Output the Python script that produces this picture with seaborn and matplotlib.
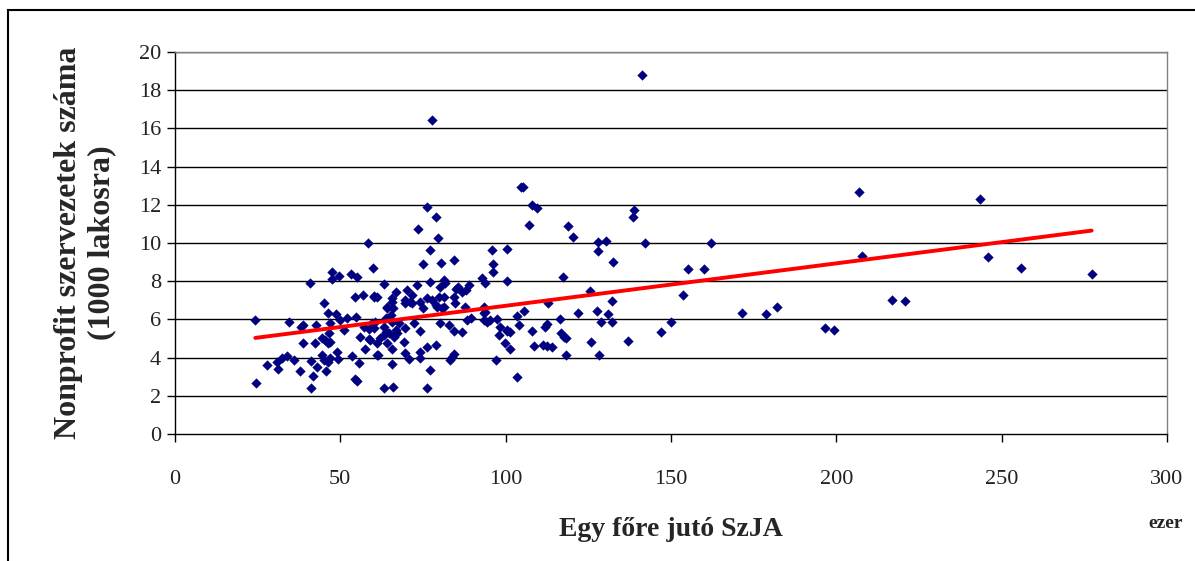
"""
Nonprofit szervezetek száma vs. egy főre jutó SzJA - szórásdiagram trendvonallal.
"""
import numpy as np
import pandas as pd
import matplotlib
matplotlib.use('Agg')
import matplotlib.pyplot as plt
import seaborn as sns
from matplotlib.patches import Rectangle

# ============== Adatok ==============
szja = [
    24.3, 34.4, 45.0, 54.3, 56.9, 60.1, 61.1, 46.2, 48.8, 38.8, 42.8, 46.8, 52.1, 54.6,
    50.0, 51.0, 57.1, 58.6, 59.6, 60.6, 38.0, 46.5, 38.8, 42.5, 44.5, 45.5, 46.2, 46.8,
    57.6, 58.6, 56.1, 61.1, 61.3, 27.7, 30.9, 32.4, 33.9, 31.2, 35.9, 37.7, 41.2, 43.0,
    44.5, 45.0, 46.2, 47.0, 49.0, 49.2, 45.8, 41.8, 41.2, 53.6, 55.8, 54.3, 55.1, 24.6,
    58.4, 59.9, 47.5, 47.5, 49.5, 53.1, 55.1, 40.7,
    77.6, 76.3, 78.8, 104.5, 73.5, 79.5, 77.0, 75.0, 80.6, 84.3, 95.9, 100.5, 96.2, 96.2,
    100.5, 63.1, 73.2, 77.0, 81.5, 81.8, 80.0, 85.6, 85.1, 88.8, 88.1, 86.8, 92.9, 93.9,
    60.1, 65.7, 66.7, 70.2, 71.7, 69.7, 71.2, 76.3, 77.8, 79.8, 78.8, 81.3, 81.3, 84.3,
    84.8, 87.8, 64.0, 66.0, 75.0, 93.4,
    63.7, 65.2, 65.7, 60.1, 63.1, 63.7, 64.7, 66.7, 67.7, 69.7, 72.2, 74.0, 59.1, 62.1,
    63.1, 64.2, 66.2, 67.2, 61.1, 65.7, 69.2, 69.7, 70.7, 74.2, 74.2, 76.3, 78.8, 83.3,
    83.9, 84.3, 65.7, 77.0, 63.1, 66.0, 76.3, 80.3, 82.8, 84.3, 86.8, 88.4, 89.4, 93.4,
    94.4, 95.4, 97.4, 97.9, 100.5, 101.4, 99.9, 101.2, 97.2, 103.5, 103.5, 64.2, 65.7,
    69.7, 71.7, 74.2, 79.3, 80.8, 93.4, 93.9,
    105.2, 108.0, 109.5, 107.0, 138.7, 138.4, 118.8, 120.3, 128.0, 130.4, 128.0, 142.1,
    132.5, 117.3, 125.6, 112.8, 132.2, 105.5, 121.8, 127.7, 130.9, 128.7, 132.2, 116.3,
    98.4, 100.5, 104.0, 108.0, 112.0, 112.5, 116.6, 117.6, 118.1, 108.5, 111.3, 112.5,
    114.1, 125.9, 118.1, 128.2, 136.9, 147.0, 150.0,
    207.0, 243.3, 162.2, 207.8, 245.9, 155.2, 159.9, 255.9, 277.2, 153.7, 216.7, 220.8,
    171.5, 178.6, 182.2, 196.6, 199.2, 141.1,
]
nonprofit = [
    5.97, 5.86, 6.87, 7.16, 7.28, 7.22, 7.16, 6.32, 6.27, 5.72, 5.72, 5.79, 6.09, 6.14,
    5.97, 5.44, 5.62, 5.48, 5.79, 5.88, 5.62, 5.27, 4.75, 4.75, 5.01, 4.92, 4.75, 4.83,
    4.43, 4.96, 5.09, 4.75, 4.14, 3.61, 3.79, 3.96, 4.08, 3.40, 3.87, 3.30, 3.82, 3.52,
    4.14, 3.87, 3.79, 3.96, 4.31, 3.93, 3.30, 3.04, 2.39, 4.08, 3.70, 2.88, 2.77, 2.65,
    9.98, 8.67, 8.50, 8.10, 8.29, 8.36, 8.22, 7.92,
    16.44, 11.90, 11.38, 12.92, 10.73, 10.28, 9.63, 8.90, 8.94, 9.11, 9.63, 9.70, 8.90, 8.48,
    8.03, 7.85, 7.78, 7.97, 8.06, 7.89, 7.71, 7.71, 7.57, 7.80, 7.54, 7.45, 8.15, 7.92,
    7.16, 7.10, 7.45, 7.54, 7.28, 7.02, 6.93, 7.10, 7.02, 7.19, 6.75, 6.66, 7.19, 7.19,
    6.84, 6.66, 6.58, 6.58, 6.58, 6.66,
    6.06, 6.23, 5.88, 5.53, 5.62, 5.36, 5.27, 5.44, 5.79, 5.53, 5.79, 5.41, 4.92, 5.01,
    5.18, 4.75, 5.09, 5.27, 4.14, 4.43, 4.83, 4.26, 3.91, 4.31, 3.96, 4.57, 4.66, 3.87,
    4.05, 4.19, 3.66, 3.37, 2.39, 2.45, 2.39, 5.79, 5.71, 5.41, 5.36, 5.97, 6.06, 5.97,
    5.88, 5.97, 6.01, 5.18, 5.41, 5.36, 4.75, 4.43, 3.87, 2.97, 6.18, 6.66, 6.93,
    6.88, 6.84, 6.93, 6.66, 6.58, 6.32, 6.40,
    12.92, 11.99, 11.82, 10.94, 11.73, 11.38, 10.89, 10.33, 10.07, 10.10, 9.60, 9.98,
    9.02, 8.24, 7.49, 6.84, 6.96, 6.44, 6.32, 6.44, 6.27, 5.85, 5.85, 6.01,
    5.62, 5.44, 5.71, 5.38, 5.62, 5.74, 5.27, 5.09, 5.01, 4.62, 4.66, 4.61,
    4.57, 4.83, 4.14, 4.14, 4.88, 5.36, 5.85,
    12.66, 12.29, 9.98, 9.32, 9.25, 8.62, 8.62, 8.69, 8.36, 7.28, 7.03, 6.95,
    6.32, 6.27, 6.65, 5.56, 5.44, 18.80,
]

# lineáris trendvonal végpontjai
trend_x = [24.3, 277.2]
trend_y = [5.03, 10.65]

x_ticks = [0, 50, 100, 150, 200, 250, 300]
y_ticks = [0, 2, 4, 6, 8, 10, 12, 14, 16, 18, 20]

df = pd.DataFrame({'szja': szja, 'nonprofit': nonprofit})
trend = pd.DataFrame({'x': trend_x, 'y': trend_y})

# ============== Ábra ==============
sns.set_style('white')
plt.rcParams['font.family'] = ['Liberation Serif', 'DejaVu Serif']

fig = plt.figure(figsize=(11.95, 5.61), dpi=100)
ax = fig.add_axes([0.1464, 0.2264, 0.8302, 0.6809])

# külső keret (Excel diagramterület)
fig.patches.append(Rectangle((8 / 1195, -0.05), 1.2, 1 - 10 / 561 + 0.05,
                             transform=fig.transFigure, fill=False,
                             edgecolor='black', linewidth=1.5))

ax.set_axisbelow(True)
for yv in y_ticks[1:]:
    ax.axhline(yv, color='black', linewidth=1.0, zorder=0)

sns.scatterplot(data=df, x='szja', y='nonprofit', ax=ax, marker='D', s=24,
                color='#000080', edgecolor='#000080', linewidth=0.3, zorder=3)
sns.lineplot(data=trend, x='x', y='y', ax=ax, color='#FF0000', linewidth=2.8,
             zorder=4)

ax.set_xlim(0, 300)
ax.set_ylim(0, 20)
ax.set_xticks(x_ticks)
ax.set_yticks(y_ticks)
ax.tick_params(axis='both', direction='out', length=6, width=1, color='black',
               labelsize=16, labelcolor='#222222', left=True, bottom=True)
ax.tick_params(axis='x', pad=20)
ax.tick_params(axis='y', pad=4)

for side in ['left', 'bottom']:
    ax.spines[side].set_color('black')
    ax.spines[side].set_linewidth(1.0)
for side in ['top', 'right']:
    ax.spines[side].set_color('#808080')
    ax.spines[side].set_linewidth(1.0)

ax.set_xlabel('Egy főre jutó SzJA', fontsize=20, fontweight='bold', labelpad=20)
ax.set_ylabel('Nonprofit szervezetek száma\n(1000 lakosra)', fontsize=23,
              fontweight='bold', labelpad=16, linespacing=1.2)
fig.text(1148 / 1195, 1 - 524 / 561, 'ezer', fontsize=14, fontweight='bold',
         ha='left', va='center')

fig.savefig('out.png', dpi=100)
plt.close(fig)
